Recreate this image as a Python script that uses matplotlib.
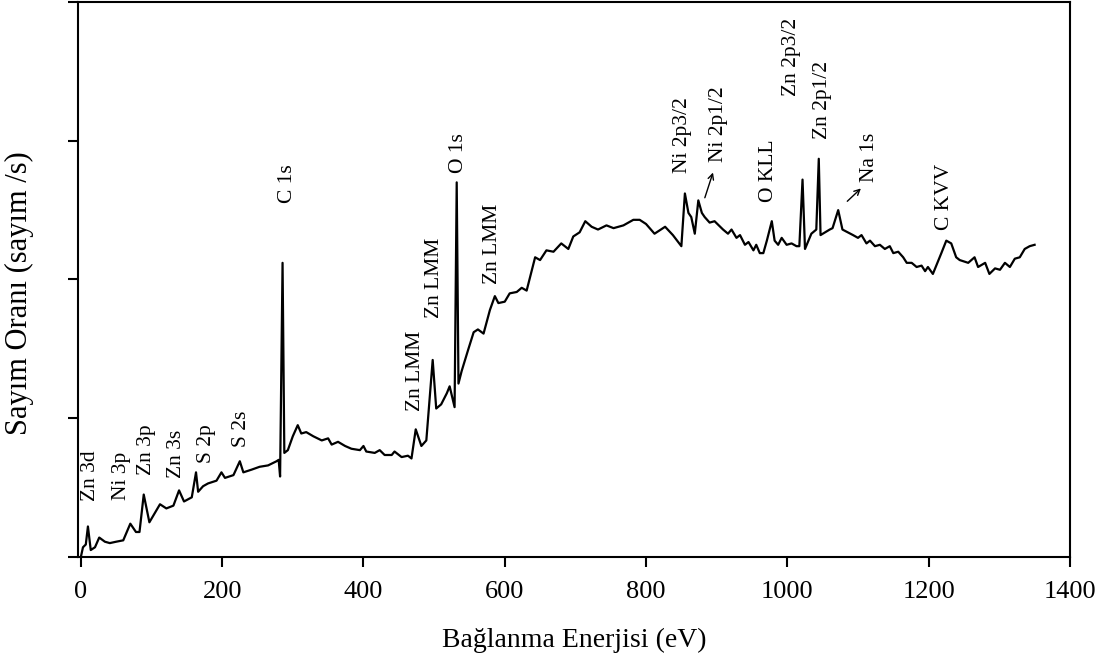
import matplotlib
matplotlib.use("Agg")
import matplotlib.pyplot as plt

# XPS survey spectrum (arbitrary count units)
energy = [0, 3, 7, 10, 14, 20, 26, 34, 41, 50, 60, 70, 78, 83, 89, 97, 105,
          112, 121, 131, 139, 146, 157, 163, 166, 173, 180, 192, 199, 204,
          216, 225, 230, 242, 253, 265, 277, 280, 282, 285.5, 288, 293, 300,
          307, 312, 319, 329, 341, 350, 355, 364, 374, 383, 395, 400, 404,
          416, 423, 430, 440, 444, 454, 463, 468, 474, 482, 489, 498, 503,
          510, 518, 522, 529, 532, 534.5, 539, 548, 556, 562, 570, 579, 586,
          591, 600, 607, 617, 624, 631, 643, 650, 659, 669, 680, 690, 697,
          706, 714, 723, 732, 744, 754, 768, 782, 791, 800, 812, 827, 838,
          850, 855, 860, 864, 869, 874, 879, 883, 890, 897, 905, 909, 916,
          921, 928, 933, 940, 945, 952, 956, 961, 966, 971, 978, 982, 987,
          992, 999, 1006, 1013, 1017, 1021.5, 1025, 1034, 1041, 1044.5, 1047,
          1060, 1064, 1072, 1078, 1093, 1100, 1105, 1112, 1117, 1124, 1131,
          1138, 1145, 1150, 1157, 1164, 1169, 1176, 1183, 1190, 1195, 1199,
          1206, 1218, 1225, 1232, 1239, 1244, 1256, 1265, 1270, 1280, 1286,
          1294, 1301, 1308, 1315, 1322, 1329, 1336, 1343, 1350]
counts = [0.00, 0.07, 0.09, 0.22, 0.05, 0.07, 0.14, 0.11, 0.10, 0.11, 0.12,
          0.24, 0.18, 0.18, 0.45, 0.25, 0.32, 0.38, 0.35, 0.37, 0.48, 0.40,
          0.43, 0.61, 0.47, 0.51, 0.53, 0.55, 0.61, 0.57, 0.59, 0.69, 0.61,
          0.63, 0.65, 0.66, 0.69, 0.70, 0.58, 2.12, 0.75, 0.77, 0.87, 0.95,
          0.89, 0.90, 0.87, 0.84, 0.855, 0.81, 0.83, 0.80, 0.78, 0.77, 0.80,
          0.76, 0.75, 0.77, 0.735, 0.735, 0.76, 0.72, 0.73, 0.71, 0.92, 0.80,
          0.84, 1.42, 1.07, 1.10, 1.18, 1.23, 1.08, 2.70, 1.25, 1.34, 1.49,
          1.62, 1.64, 1.61, 1.78, 1.88, 1.83, 1.84, 1.90, 1.91, 1.94, 1.92,
          2.16, 2.14, 2.21, 2.20, 2.26, 2.22, 2.31, 2.34, 2.42, 2.38, 2.36,
          2.39, 2.37, 2.39, 2.43, 2.43, 2.40, 2.33, 2.38, 2.32, 2.24, 2.62,
          2.48, 2.45, 2.33, 2.57, 2.48, 2.45, 2.41, 2.42, 2.38, 2.36, 2.33,
          2.36, 2.30, 2.32, 2.25, 2.27, 2.21, 2.25, 2.19, 2.19, 2.28, 2.42,
          2.28, 2.25, 2.30, 2.25, 2.26, 2.24, 2.24, 2.72, 2.22, 2.33, 2.36,
          2.87, 2.32, 2.36, 2.37, 2.50, 2.36, 2.32, 2.30, 2.32, 2.26, 2.28,
          2.24, 2.25, 2.22, 2.24, 2.19, 2.20, 2.16, 2.12, 2.12, 2.09, 2.10,
          2.06, 2.09, 2.04, 2.19, 2.28, 2.26, 2.16, 2.14, 2.12, 2.16, 2.09,
          2.12, 2.04, 2.08, 2.07, 2.12, 2.09, 2.15, 2.16, 2.22, 2.24, 2.25]

# peak labels: text, x position (eV), bottom of the text (count units)
peak_names = ["Zn 3d", "Ni 3p", "Zn 3p", "Zn 3s", "S 2p", "S 2s", "C 1s",
              "Zn LMM", "Zn LMM", "O 1s", "Zn LMM", "Ni 2p3/2", "Ni 2p1/2",
              "O KLL", "Zn 2p3/2", "Zn 2p1/2", "Na 1s", "C KVV"]
peak_x = [13, 58, 93, 136, 178, 228, 292, 473, 500, 534, 583, 852, 902,
          973, 1006, 1050, 1117, 1223]
peak_y = [0.40, 0.41, 0.59, 0.57, 0.68, 0.79, 2.55, 1.05, 1.72, 2.77, 1.97,
          2.77, 2.85, 2.56, 3.32, 3.01, 2.70, 2.36]

# small arrows pointing at Ni 2p1/2 and Na 1s
arrow_from = [(882, 2.57), (1082, 2.55)]
arrow_to = [(896, 2.79), (1107, 2.67)]

plt.rcParams['font.family'] = ['Liberation Serif', 'DejaVu Serif']

fig = plt.figure(figsize=(11.1, 6.66), dpi=100)
ax = fig.add_axes([0.0703, 0.1637, 0.8936, 0.8333])

ax.plot(energy, counts, color='black', linewidth=1.6)

for name, x, y in zip(peak_names, peak_x, peak_y):
    ax.text(x, y, name, rotation=90, ha='center', va='bottom', fontsize=15.5)

for start, end in zip(arrow_from, arrow_to):
    ax.annotate("", xy=end, xytext=start,
                arrowprops=dict(arrowstyle='->', color='black', lw=1.0))

ax.set_xlim(-4, 1400)
ax.set_ylim(0, 4)
ax.set_xticks(range(0, 1401, 200))
ax.set_yticks([0, 1, 2, 3, 4])
ax.set_yticklabels([])
ax.tick_params(axis='both', direction='out', length=7, width=1.5,
               labelsize=19, color='black')
ax.tick_params(axis='x', pad=10)
for sp in ax.spines.values():
    sp.set_linewidth(1.5)

ax.set_xlabel('Bağlanma Enerjisi (eV)', fontsize=20, labelpad=18)
ax.set_ylabel('Sayım Oranı (sayım /s)', fontsize=22)
ax.yaxis.set_label_coords(-0.044, 0.476)

fig.savefig('out.png', dpi=100)
